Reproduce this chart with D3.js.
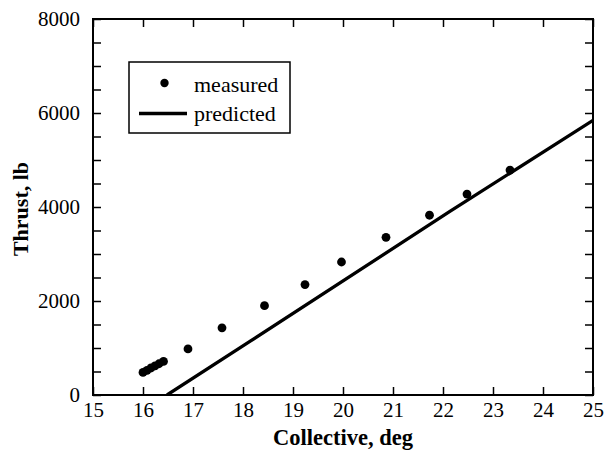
<!DOCTYPE html>
<html>
<head>
<meta charset="utf-8">
<script src="https://cdn.jsdelivr.net/npm/d3@7"></script>
<style>
  html, body { margin: 0; padding: 0; background: #fff; }
  svg { display: block; }
  text { font-family: "Liberation Serif", "Times New Roman", serif; fill: #000; }
</style>
</head>
<body>
<svg id="chart" width="613" height="452"></svg>
<script>
// Measured thrust vs. collective pitch
const measuredCollective = [16.0, 16.08, 16.16, 16.24, 16.32, 16.41, 16.9, 17.58, 18.43, 19.24, 19.97, 20.86, 21.73, 22.48, 23.34];
const measuredThrust     = [480, 525, 575, 620, 665, 715, 980, 1430, 1900, 2350, 2830, 3355, 3825, 4275, 4785];

// Predicted thrust curve
const predictedCollective = [16.48, 18.13, 22.13, 25.0];
const predictedThrust     = [0, 1134, 3900, 5845];

const xTicks = [15, 16, 17, 18, 19, 20, 21, 22, 23, 24, 25];
const yLabelTicks = [0, 2000, 4000, 6000, 8000];
const yMinorTicks = d3.range(0, 8001, 500);

const svg = d3.select("#chart");
const plot = { left: 93, right: 593, top: 19, bottom: 395 };

const x = d3.scaleLinear().domain([15, 25]).range([plot.left, plot.right]);
const y = d3.scaleLinear().domain([0, 8000]).range([plot.bottom, plot.top]);

svg.append("defs").append("clipPath").attr("id", "plotClip")
  .append("rect")
  .attr("x", plot.left).attr("y", plot.top)
  .attr("width", plot.right - plot.left).attr("height", plot.bottom - plot.top);

const tickLen = 8;

// Axes with inward ticks
function styleAxis(g) {
  g.select(".domain").remove();
  g.selectAll(".tick line").attr("stroke", "#000").attr("stroke-width", 1.5);
}

const bottomAxis = d3.axisBottom(x).tickValues(xTicks).tickSize(-tickLen).tickPadding(0).tickFormat(d3.format("d"));
svg.append("g").attr("transform", `translate(0,${plot.bottom})`).call(bottomAxis)
  .call(styleAxis)
  .call(g => g.selectAll(".tick text")
    .attr("y", 22).attr("dy", null)
    .style("font-size", "21px").style("font-family", "Liberation Serif, serif"));

const topAxis = d3.axisTop(x).tickValues(xTicks).tickSize(-tickLen).tickFormat("");
svg.append("g").attr("transform", `translate(0,${plot.top})`).call(topAxis).call(styleAxis);

const leftAxis = d3.axisLeft(y).tickValues(yMinorTicks).tickSize(-tickLen).tickPadding(13)
  .tickFormat(d => yLabelTicks.includes(d) ? d3.format("d")(d) : "");
svg.append("g").attr("transform", `translate(${plot.left},0)`).call(leftAxis)
  .call(styleAxis)
  .call(g => g.selectAll(".tick text")
    .attr("dy", "0.33em")
    .style("font-size", "21px").style("font-family", "Liberation Serif, serif"));

const rightAxis = d3.axisRight(y).tickValues(yMinorTicks).tickSize(-tickLen).tickFormat("");
svg.append("g").attr("transform", `translate(${plot.right},0)`).call(rightAxis).call(styleAxis);

// Frame
svg.append("rect")
  .attr("x", plot.left).attr("y", plot.top)
  .attr("width", plot.right - plot.left).attr("height", plot.bottom - plot.top)
  .attr("fill", "none").attr("stroke", "#000").attr("stroke-width", 2);

// Predicted line
const predicted = predictedCollective.map((c, i) => [c, predictedThrust[i]]);
svg.append("path")
  .datum(predicted)
  .attr("clip-path", "url(#plotClip)")
  .attr("fill", "none").attr("stroke", "#000").attr("stroke-width", 3.3)
  .attr("d", d3.line().x(d => x(d[0])).y(d => y(d[1])));

// Measured points
const measured = measuredCollective.map((c, i) => [c, measuredThrust[i]]);
svg.append("g").selectAll("circle")
  .data(measured).join("circle")
  .attr("cx", d => x(d[0])).attr("cy", d => y(d[1]))
  .attr("r", 4.4).attr("fill", "#000");

// Axis titles
svg.append("text")
  .attr("x", (plot.left + plot.right) / 2).attr("y", 445)
  .attr("text-anchor", "middle")
  .style("font-size", "22.5px").style("font-weight", "bold")
  .text("Collective, deg");

svg.append("text")
  .attr("transform", `translate(28,${(plot.top + plot.bottom) / 2 + 2}) rotate(-90)`)
  .attr("text-anchor", "middle")
  .style("font-size", "22px").style("font-weight", "bold")
  .text("Thrust, lb");

// Legend
const legend = svg.append("g");
legend.append("rect")
  .attr("x", 129).attr("y", 62).attr("width", 161).attr("height", 71)
  .attr("fill", "#fff").attr("stroke", "#000").attr("stroke-width", 1.5);
legend.append("circle").attr("cx", 164.5).attr("cy", 83).attr("r", 4.2).attr("fill", "#000");
legend.append("text").attr("x", 194).attr("y", 92).style("font-size", "22px").text("measured");
legend.append("line").attr("x1", 139).attr("x2", 187).attr("y1", 113.5).attr("y2", 113.5)
  .attr("stroke", "#000").attr("stroke-width", 3.3);
legend.append("text").attr("x", 194).attr("y", 121).style("font-size", "22px").text("predicted");
</script>
</body>
</html>
